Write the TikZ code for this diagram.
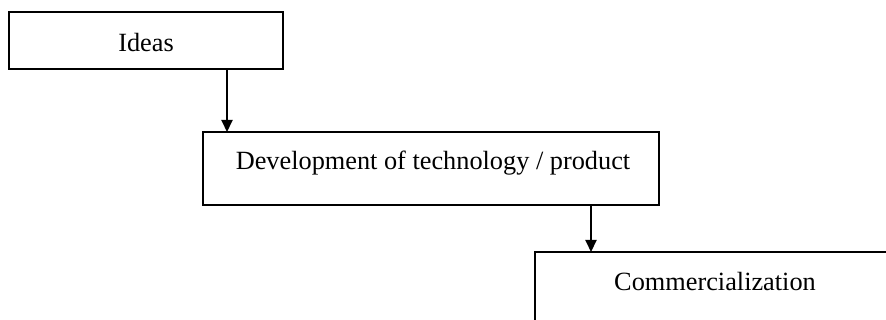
\documentclass[tikz,border=0pt]{standalone}
\usepackage{fontspec}
\setmainfont{Liberation Serif}
\usetikzlibrary{arrows.meta}
\begin{document}
\begin{tikzpicture}[x=1pt,y=-1pt,
  stage/.style={draw=black,line width=1.8pt,fill=white},
  lbl/.style={font=\fontsize{26.3}{31}\selectfont,anchor=center,inner sep=0pt},
  flow/.style={line width=2pt,-{Triangle[length=12pt,width=11pt]}}]
\useasboundingbox (0,0) rectangle (886,320);
\begin{scope}
\clip (0,0) rectangle (886,320);
\draw[stage] (9,12) rectangle (283,69);
\coordinate (b1s) at (227,69);
\node[lbl] (t1) at (146,43) {Ideas};
\draw[stage] (203,132) rectangle (659,205);
\coordinate (b2n) at (227,132);
\coordinate (b2s) at (591,205);
\node[lbl] (t2) at (433,163) {Development of technology / product};
\draw[stage] (535,252) rectangle (900,340);
\coordinate (b3n) at (591,252);
\node[lbl] (t3) at (715,282) {Commercialization};
\draw[flow] (b1s) -- (b2n);
\draw[flow] (b2s) -- (b3n);
\end{scope}
\end{tikzpicture}
\end{document}
